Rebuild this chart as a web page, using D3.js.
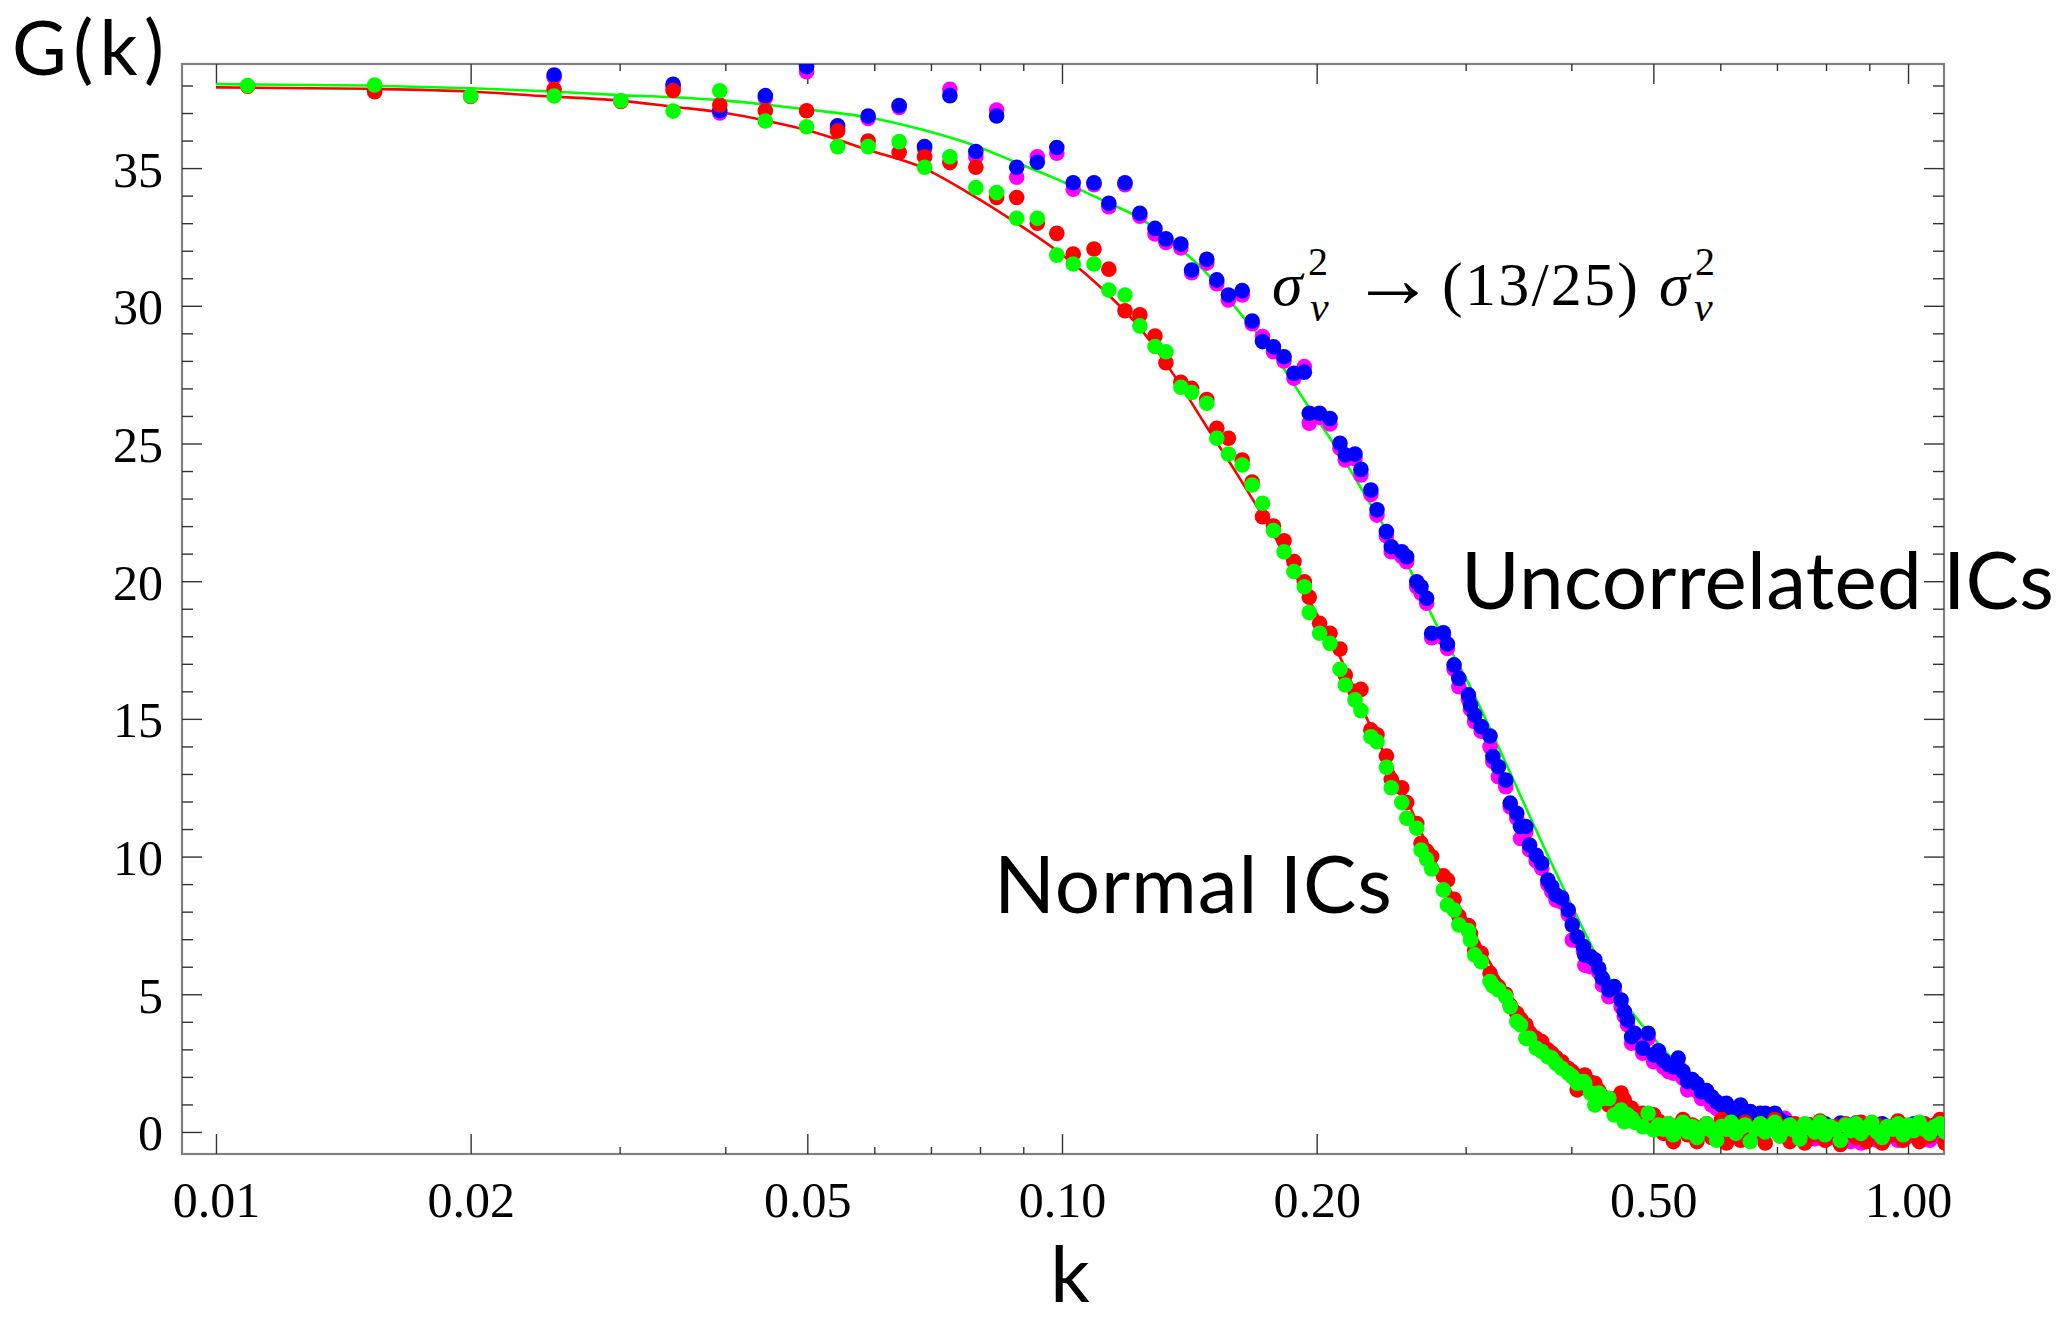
<!DOCTYPE html>
<html>
<head>
<meta charset="utf-8">
<script src="https://cdn.jsdelivr.net/npm/d3@7"></script>
<style>
	body { margin: 0; background: #fff; }
	svg { display: block; }
	.axis text { font-family: 'Liberation Serif', 'Times New Roman', serif; font-size: 50px; fill: #000; }
	.axis line { stroke: #333; stroke-width: 1.4; }
	.big { font-family: Lato, 'Open Sans', sans-serif; fill: #000; }
	.math { font-family: 'Liberation Serif', 'Times New Roman', serif; fill: #000; }
</style>
</head>
<body>
<svg id="chart" width="2065" height="1322"></svg>
<script>
// k grid shared by the four simulation runs
const kGrid = [
	0.0109, 0.0154, 0.0200, 0.0251, 0.0301, 0.0347, 0.0394, 0.0446, 0.0499, 0.0543,
	0.0590, 0.0642, 0.0688, 0.0737, 0.0791, 0.0837, 0.0884, 0.0935, 0.0986, 0.1031,
	0.1091, 0.1136, 0.1187, 0.1236, 0.1288, 0.1327, 0.1382, 0.1423, 0.1483, 0.1524,
	0.1573, 0.1633, 0.1678, 0.1726, 0.1778, 0.1830, 0.1880, 0.1934, 0.1960, 0.2016,
	0.2074, 0.2131, 0.2162, 0.2220, 0.2256, 0.2318, 0.2357, 0.2418, 0.2450, 0.2521,
	0.2555, 0.2626, 0.2657, 0.2698, 0.2735, 0.2823, 0.2855, 0.2907, 0.2945, 0.3023,
	0.3040, 0.3075, 0.3130, 0.3206, 0.3231, 0.3280, 0.3346, 0.3387, 0.3448, 0.3483,
	0.3534, 0.3570, 0.3635, 0.3690, 0.3752, 0.3792, 0.3837, 0.3896, 0.3966, 0.4010,
	0.4064, 0.4134, 0.4149, 0.4215, 0.4264, 0.4310, 0.4352, 0.4430, 0.4495, 0.4580,
	0.4620, 0.4660, 0.4713, 0.4750, 0.4858, 0.4930, 0.5005, 0.507, 0.514, 0.521,
	0.528, 0.535, 0.542, 0.549, 0.556, 0.563, 0.570, 0.578, 0.586, 0.594,
	0.602, 0.610, 0.618, 0.626, 0.634, 0.642, 0.651, 0.660, 0.669, 0.678,
	0.687, 0.696, 0.705, 0.715, 0.725, 0.735, 0.745, 0.755, 0.765, 0.776,
	0.787, 0.798, 0.809, 0.820, 0.832, 0.844, 0.856, 0.868, 0.880, 0.893,
	0.906, 0.919, 0.932, 0.945, 0.959, 0.973, 0.987, 1.001, 1.016, 1.031,
	1.046, 1.061, 1.076, 1.091, 1.106,
]

// Normal ICs, run 1 (red)
const gRed = [
	37.97, 37.77, 37.60, 37.86, 37.42, 37.82, 37.29, 37.08, 37.08, 36.35,
	35.98, 35.57, 35.41, 35.20, 35.03, 33.93, 33.93, 33.00, 32.63, 31.88,
	32.06, 31.33, 29.82, 29.67, 28.90, 27.93, 27.22, 27.00, 26.60, 25.55,
	25.19, 24.40, 23.60, 22.34, 22.00, 21.47, 20.71, 19.98, 19.42, 18.47,
	18.11, 17.54, 16.59, 16.00, 16.07, 14.60, 14.42, 13.65, 12.80, 12.50,
	11.96, 11.20, 10.48, 10.20, 10.00, 9.30, 9.15, 8.45, 7.84, 7.50,
	7.20, 6.60, 6.49, 5.76, 5.50, 5.28, 5.00, 4.60, 4.31, 4.10,
	3.89, 3.60, 3.40, 3.28, 2.98, 2.86, 2.70, 2.55, 2.30, 2.19,
	1.53, 1.95, 2.07, 1.80, 1.77, 1.50, 1.30, 0.98, 1.20, 1.41,
	1.16, 0.92, 0.86, 0.70, 0.68, 0.50, 0.62, 0.40, -0.05, 0.30,
	-0.35, 0.10, 0.45, -0.10, 0.25, -0.35, 0.15, 0.30, -0.20, 0.05,
	0.45, -0.40, 0.20, 0.00, -0.30, 0.35, 0.10, -0.15, 0.30, -0.40,
	0.15, 0.45, -0.05, 0.20, -0.35, 0.30, 0.05, -0.40, 0.25, -0.10,
	0.40, -0.30, 0.10, 0.20, -0.45, 0.30, 0.00, -0.20, 0.35, -0.35,
	0.10, 0.25, -0.40, 0.15, -0.10, 0.40, -0.30, 0.20, 0.05, -0.35,
	0.30, -0.15, 0.10, 0.45, -0.40,
]

// Normal ICs, run 2 (green)
const gGreen = [
	38.00, 38.02, 37.62, 37.62, 37.45, 37.07, 37.81, 36.71, 36.50, 35.78,
	35.78, 35.96, 35.03, 35.41, 34.29, 34.11, 33.18, 33.18, 31.84, 31.52,
	31.52, 30.57, 30.39, 29.27, 28.52, 28.33, 27.04, 26.85, 26.46, 25.19,
	24.62, 24.22, 23.49, 22.83, 21.84, 21.07, 20.35, 19.80, 18.86, 18.11,
	17.74, 16.80, 16.23, 15.69, 15.30, 14.35, 14.17, 13.24, 12.50, 11.96,
	11.39, 11.03, 10.24, 9.90, 9.55, 8.79, 8.24, 8.06, 7.52, 7.31,
	6.97, 6.43, 6.18, 5.46, 5.30, 5.16, 4.91, 4.55, 4.01, 3.89,
	3.40, 3.40, 3.04, 2.92, 2.73, 2.68, 2.49, 2.31, 2.13, 2.01,
	1.77, 1.83, 1.77, 1.41, 0.98, 1.41, 1.22, 1.22, 0.62, 0.80,
	0.37, 0.62, 0.50, 0.35, 0.19, 0.68, 0.07, 0.25, 0.10, 0.30,
	-0.10, 0.15, 0.35, 0.00, 0.20, -0.20, 0.10, 0.30, 0.05, -0.30,
	0.20, 0.10, 0.35, -0.05, 0.15, 0.25, -0.35, 0.10, 0.30, 0.00,
	0.20, 0.35, -0.15, 0.10, 0.25, 0.05, -0.25, 0.30, 0.15, 0.00,
	0.35, -0.10, 0.20, 0.10, -0.30, 0.25, 0.05, 0.30, -0.05, 0.15,
	0.35, 0.00, -0.20, 0.20, 0.10, 0.30, -0.10, 0.25, 0.05, 0.35,
	0.10, -0.05, 0.20, 0.30, 0.00,
]

// Uncorrelated ICs, run 1 (magenta)
const gMagenta = [
	null, null, null, 38.30, null, 37.95, 37.00, 37.55, 38.50, 36.45,
	36.80, 37.20, 35.70, 37.86, 35.41, 37.11, 34.67, 35.41, 35.54, 34.23,
	34.40, 33.60, 34.40, 33.25, 32.61, 32.30, 32.10, 31.20, 31.55, 30.80,
	30.21, 30.39, 29.35, 28.88, 28.33, 28.00, 27.37, 27.79, 25.74, 25.95,
	25.71, 24.83, 24.40, 24.45, 23.86, 23.15, 22.40, 21.65, 21.07, 20.90,
	20.71, 19.80, 19.56, 19.20, 17.95, 17.95, 17.56, 16.80, 16.17, 15.70,
	15.35, 14.90, 14.55, 13.99, 13.45, 12.90, 12.54, 11.80, 11.39, 10.66,
	10.90, 10.25, 9.85, 9.58, 9.00, 8.73, 8.42, 8.35, 7.90, 6.97,
	6.95, 6.55, 6.06, 6.00, 6.10, 5.80, 5.34, 4.91, 5.10, 4.55,
	4.20, 3.89, 3.22, 3.34, 2.86, 3.40, 2.55, 2.70, 2.35, 2.20,
	2.13, 2.40, 1.95, 1.53, 1.65, 1.50, 1.22, 1.25, 0.98, 0.85,
	0.80, 0.85, 0.60, 0.56, 0.80, 0.60, 0.55, 0.45, 0.50, 0.45,
	0.30, 0.40, 0.50, 0.50, 0.10, 0.00, -0.10, -0.20, 0.05, -0.25,
	-0.10, 0.10, -0.20, 0.00, 0.10, -0.15, -0.35, 0.05, -0.40, -0.10,
	0.00, -0.30, 0.05, -0.20, -0.05, -0.30, 0.00, -0.15, 0.05, -0.25,
	-0.05, -0.30, 0.00, -0.15, -0.10,
]

// Uncorrelated ICs, run 2 (blue)
const gBlue = [
	null, null, null, 38.38, null, 38.04, 37.08, 37.63, 38.68, 36.54,
	36.89, 37.27, 35.78, 37.63, 35.60, 36.89, 35.03, 35.21, 35.75, 34.47,
	34.47, 33.72, 34.47, 33.36, 32.81, 32.43, 32.24, 31.30, 31.69, 30.94,
	30.39, 30.55, 29.45, 28.70, 28.51, 28.15, 27.55, 27.59, 26.10, 26.10,
	25.91, 25.01, 24.58, 24.62, 24.06, 23.31, 22.59, 21.80, 21.25, 21.07,
	20.89, 19.98, 19.80, 19.38, 18.11, 18.13, 17.72, 16.96, 16.47, 15.87,
	15.50, 15.14, 14.72, 14.38, 13.63, 13.26, 12.78, 11.94, 11.57, 11.09,
	11.09, 10.42, 10.05, 9.76, 9.15, 8.91, 8.61, 8.50, 8.06, 7.52,
	7.09, 6.73, 6.43, 6.37, 6.25, 5.94, 5.58, 5.16, 5.28, 4.79,
	4.37, 4.07, 3.46, 3.58, 3.04, 3.58, 2.80, 2.95, 2.60, 2.45,
	2.37, 2.68, 2.20, 1.83, 1.90, 1.75, 1.46, 1.50, 1.28, 1.10,
	0.98, 1.04, 0.85, 0.74, 0.98, 0.70, 0.74, 0.60, 0.68, 0.68,
	0.50, 0.68, 0.45, 0.35, 0.30, 0.20, 0.15, 0.10, 0.25, 0.00,
	0.15, 0.30, 0.05, 0.20, 0.32, 0.10, 0.20, 0.32, 0.00, 0.15,
	0.25, 0.05, 0.30, 0.10, 0.20, 0.00, 0.25, 0.10, 0.30, 0.05,
	0.20, 0.00, 0.25, 0.10, 0.15,
]

// fitted curves
const kFitNormal = [
	0.0100, 0.0150, 0.0200, 0.0242, 0.0300, 0.0347, 0.0400, 0.0450, 0.0499, 0.0590,
	0.0686, 0.0785, 0.0884, 0.0986, 0.1126, 0.1236, 0.1355, 0.1483, 0.1618, 0.1778,
	0.1944, 0.2035, 0.2150, 0.2294, 0.2510, 0.2751, 0.3010, 0.3293, 0.3603, 0.3940,
	0.4300, 0.4700, 0.5200, 0.5800, 0.6500, 0.7500, 0.9000, 1.1100,
]
const gFitNormal = [
	37.93, 37.88, 37.78, 37.62, 37.45, 37.23, 37.00, 36.70, 36.38, 35.66,
	35.00, 34.00, 33.00, 32.00, 30.50, 29.20, 27.50, 25.60, 23.79, 21.70,
	19.50, 18.40, 17.00, 15.00, 12.60, 9.90, 7.70, 5.52, 3.82, 2.37,
	1.40, 0.75, 0.30, 0.10, 0.03, 0.00, 0.00, 0.00,
]
const kFitUncorr = [
	0.0100, 0.0150, 0.0200, 0.0242, 0.0300, 0.0347, 0.0400, 0.0499, 0.0598, 0.0686,
	0.0785, 0.0884, 0.0986, 0.1126, 0.1236, 0.1355, 0.1483, 0.1618, 0.1778, 0.1944,
	0.2131, 0.2336, 0.2555, 0.2791, 0.3010, 0.3293, 0.3603, 0.3940, 0.4289, 0.4703,
	0.5144, 0.5600, 0.6100, 0.6700, 0.7500, 0.8500, 0.9500, 1.1100,
]
const gFitUncorr = [
	38.05, 38.00, 37.90, 37.80, 37.65, 37.57, 37.45, 37.13, 36.81, 36.38,
	35.84, 35.20, 34.60, 33.78, 33.18, 32.27, 31.18, 29.79, 28.27, 26.46,
	24.64, 22.60, 20.65, 18.23, 16.41, 13.87, 11.21, 8.67, 6.37, 4.40,
	3.00, 1.85, 1.05, 0.50, 0.18, 0.05, 0.01, 0.00,
]

const xMajor = [0.01, 0.02, 0.05, 0.1, 0.2, 0.5, 1.0]
const xMinor = [0.03, 0.04, 0.06, 0.07, 0.08, 0.09, 0.3, 0.4, 0.6, 0.7, 0.8, 0.9]
const yMajor = [0, 5, 10, 15, 20, 25, 30, 35]
const yMinor = [1, 2, 3, 4, 6, 7, 8, 9, 11, 12, 13, 14, 16, 17, 18, 19, 21, 22, 23, 24, 26, 27, 28, 29, 31, 32, 33, 34, 36, 37, 38]

let PLOT = { left: 182, right: 1944, top: 64, bottom: 1154 }
let DOT_R = 7.8

let svg = d3.select('#chart')

let x = d3.scaleLog().domain([0.009117, 1.1029]).range([PLOT.left, PLOT.right])
let y = d3.scaleLinear().domain([-0.8, 38.78]).range([PLOT.bottom, PLOT.top])

svg.append('defs').append('clipPath')
	.attr('id', 'plot-clip')
	.append('rect')
		.attr('x', PLOT.left)
		.attr('y', PLOT.top)
		.attr('width', PLOT.right - PLOT.left)
		.attr('height', PLOT.bottom - PLOT.top)

// frame
svg.append('rect')
	.attr('x', PLOT.left)
	.attr('y', PLOT.top)
	.attr('width', PLOT.right - PLOT.left)
	.attr('height', PLOT.bottom - PLOT.top)
	.attr('fill', 'none')
	.attr('stroke', '#808080')
	.attr('stroke-width', 2.2)

function addAxis(axis, tx, ty, labels) {
	let g = svg.append('g')
		.attr('class', 'axis')
		.attr('transform', `translate(${tx}, ${ty})`)
		.call(axis)
	g.select('.domain').remove()
	if (!labels) g.selectAll('text').remove()
	return g
}

let fmt = d3.format('.2f')

addAxis(d3.axisBottom(x).tickValues(xMajor).tickFormat(fmt).tickSize(-20).tickSizeOuter(0).tickPadding(27), 0, PLOT.bottom, true)
addAxis(d3.axisBottom(x).tickValues(xMinor).tickSize(-7).tickSizeOuter(0), 0, PLOT.bottom, false)
addAxis(d3.axisTop(x).tickValues(xMajor).tickSize(-20).tickSizeOuter(0), 0, PLOT.top, false)
addAxis(d3.axisTop(x).tickValues(xMinor).tickSize(-7).tickSizeOuter(0), 0, PLOT.top, false)

let left = addAxis(d3.axisLeft(y).tickValues(yMajor).tickFormat(d3.format('d')).tickSize(-20).tickSizeOuter(0).tickPadding(19), PLOT.left, 0, true)
left.selectAll('text').attr('dy', '0.36em')
addAxis(d3.axisLeft(y).tickValues(yMinor).tickSize(-11).tickSizeOuter(0), PLOT.left, 0, false)
addAxis(d3.axisRight(y).tickValues(yMajor).tickSize(-20).tickSizeOuter(0), PLOT.right, 0, false)
addAxis(d3.axisRight(y).tickValues(yMinor).tickSize(-11).tickSizeOuter(0), PLOT.right, 0, false)

let plot = svg.append('g').attr('clip-path', 'url(#plot-clip)')

let line = d3.line()
	.x((d) => { return x(d[0]) })
	.y((d) => { return y(d[1]) })
	.curve(d3.curveMonotoneX)

let fits = [
	{ color: '#ff0000', k: kFitNormal, g: gFitNormal },
	{ color: '#00ff00', k: kFitUncorr, g: gFitUncorr },
]

fits.forEach((f) => {
	plot.append('path')
		.datum(f.k.map((k, i) => { return [k, f.g[i]] }))
		.attr('d', line)
		.attr('fill', 'none')
		.attr('stroke', f.color)
		.attr('stroke-width', 2.6)
})

// draw order matters: magenta under blue, red under green
let series = [
	{ color: '#ff00ff', g: gMagenta },
	{ color: '#0000ff', g: gBlue },
	{ color: '#ff0000', g: gRed },
	{ color: '#00ff00', g: gGreen },
]

series.forEach((s) => {
	if (s.g.length !== kGrid.length) console.warn('length mismatch', s.color, s.g.length, kGrid.length)
	let pts = kGrid.map((k, i) => { return { k: k, g: s.g[i] } })
		.filter((d) => { return d.g !== null && d.g !== undefined })
	plot.append('g')
		.selectAll('circle')
		.data(pts)
		.enter().append('circle')
			.attr('cx', (d) => { return x(d.k) })
			.attr('cy', (d) => { return y(d.g) })
			.attr('r', DOT_R)
			.attr('fill', s.color)
})

// axis titles
svg.append('text')
	.attr('class', 'big')
	.attr('x', 12)
	.attr('y', 75)
	.attr('textLength', 152)
	.attr('lengthAdjust', 'spacing')
	.style('font-size', '75px')
	.text('G(k)')

svg.append('text')
	.attr('class', 'big')
	.attr('x', 1070)
	.attr('y', 1302)
	.attr('text-anchor', 'middle')
	.style('font-size', '78px')
	.text('k')

// curve labels
svg.append('text')
	.attr('class', 'big')
	.attr('x', 1461)
	.attr('y', 609)
	.attr('textLength', 593)
	.attr('lengthAdjust', 'spacing')
	.style('font-size', '80px')
	.text('Uncorrelated ICs')

svg.append('text')
	.attr('class', 'big')
	.attr('x', 994)
	.attr('y', 913)
	.attr('textLength', 398)
	.attr('lengthAdjust', 'spacing')
	.style('font-size', '80px')
	.text('Normal ICs')

// sigma_v^2 -> (13/25) sigma_v^2
let math = svg.append('g').attr('class', 'math')

function sigmaV2(mx, subx, supx) {
	let t = math.append('text')
		.attr('x', mx)
		.attr('y', 305)
		.style('font-size', '62px')
		.style('font-style', 'italic')
	t.append('tspan').text('σ')
	t.append('tspan')
		.attr('x', supx)
		.attr('y', 275)
		.style('font-size', '40px')
		.style('font-style', 'normal')
		.text('2')
	t.append('tspan')
		.attr('x', subx)
		.attr('y', 321)
		.style('font-size', '42px')
		.text('v')
}

sigmaV2(1272, 1310, 1308)

math.append('text')
	.attr('x', 1351)
	.attr('y', 307)
	.style('font-size', '84px')
	.text('→')

math.append('text')
	.attr('x', 1442)
	.attr('y', 305)
	.attr('textLength', 196)
	.attr('lengthAdjust', 'spacing')
	.style('font-size', '62px')
	.text('(13/25)')

sigmaV2(1659, 1694, 1695)
</script>
</body>
</html>
